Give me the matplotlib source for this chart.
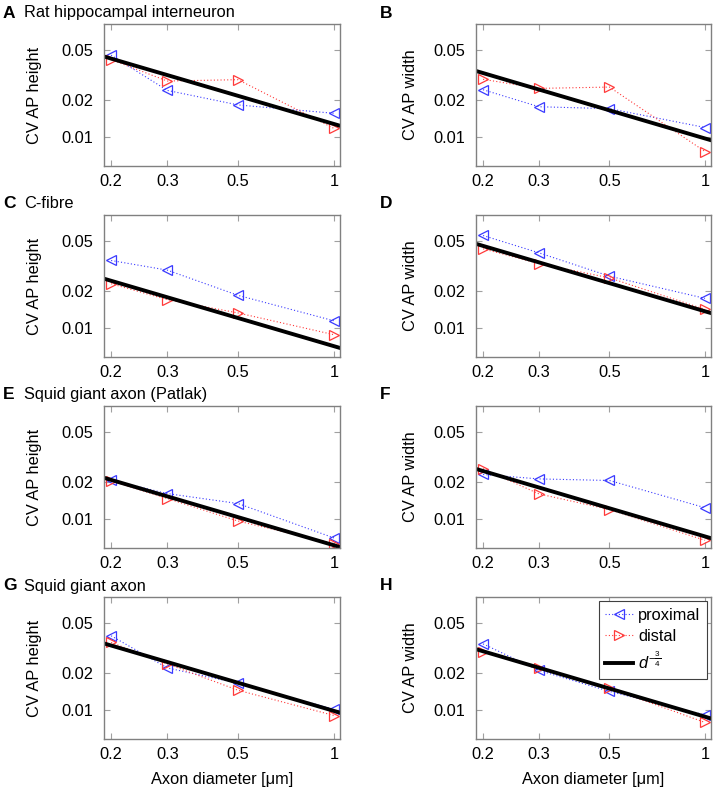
import numpy as np
import matplotlib
matplotlib.use("Agg")
import matplotlib.pyplot as plt

plt.rcParams['font.family'] = ['Liberation Sans', 'DejaVu Sans']
plt.rcParams['font.size'] = 11.8
plt.rcParams['mathtext.fontset'] = 'custom'
plt.rcParams['mathtext.it'] = 'Liberation Sans:italic'
plt.rcParams['mathtext.rm'] = 'Liberation Sans'

# axon diameters (um)
diam = [0.2, 0.3, 0.5, 1]

# CV values, proximal / distal per panel
a_prox = [0.0456, 0.0238, 0.0182, 0.0156]
a_dist = [0.0420, 0.0283, 0.0290, 0.0118]
b_prox = [0.0241, 0.0176, 0.0170, 0.0120]
b_dist = [0.0292, 0.0247, 0.0253, 0.0077]
c_prox = [0.0350, 0.0293, 0.0184, 0.0115]
c_dist = [0.0228, 0.0170, 0.0133, 0.0089]
d_prox = [0.0555, 0.0403, 0.0262, 0.0174]
d_dist = [0.0434, 0.0331, 0.0254, 0.0142]
e_prox = [0.0206, 0.0161, 0.0134, 0.0071]
e_dist = [0.0204, 0.0147, 0.0097, 0.0064]
f_prox = [0.0229, 0.0211, 0.0205, 0.0124]
f_dist = [0.0255, 0.0160, 0.0120, 0.0068]
g_prox = [0.0396, 0.0219, 0.0165, 0.0102]
g_dist = [0.0350, 0.0236, 0.0145, 0.0091]
h_prox = [0.0341, 0.0209, 0.0142, 0.0092]
h_dist = [0.0296, 0.0217, 0.0151, 0.0080]

# prefactor of the d^-3/4 line in each panel
fit_coef = [0.0128, 0.0098, 0.0072, 0.0137, 0.0062, 0.0073, 0.0099, 0.0089]

letters = ['A', 'B', 'C', 'D', 'E', 'F', 'G', 'H']
titles = ['Rat hippocampal interneuron', '', 'C-fibre', '', 'Squid giant axon (Patlak)', '',
          'Squid giant axon', '']
ylabels = ['CV AP height', 'CV AP width'] * 4
prox_all = [a_prox, b_prox, c_prox, d_prox, e_prox, f_prox, g_prox, h_prox]
dist_all = [a_dist, b_dist, c_dist, d_dist, e_dist, f_dist, g_dist, h_dist]

xticks = [0.2, 0.3, 0.5, 1]
xticklabels = ['0.2', '0.3', '0.5', '1']
yticks = [0.01, 0.02, 0.05]
yticklabels = ['0.01', '0.02', '0.05']

W, H = 716, 794
fig = plt.figure(figsize=(W / 100, H / 100), dpi=100)

col_x = [104, 476]
col_w = [236, 235]
ylab_x = [-0.263, -0.247]
row_top = [24, 215, 406, 597]
ax_h = 142
xlim = (0.19, 1.044)
ylim = (0.0059, 0.081)

for i in range(8):
    r, c = i // 2, i % 2
    ax = fig.add_axes([col_x[c] / W, 1 - (row_top[r] + ax_h) / H, col_w[c] / W, ax_h / H])
    ax.set_xscale('log')
    ax.set_yscale('log')

    ax.plot(diam, prox_all[i], color='#3a3aff', lw=0.8, ls=(0, (1, 2)), marker='<',
            ms=6.5, mfc='none', mew=0.9, label='proximal')
    ax.plot(diam, dist_all[i], color='#ff3a3a', lw=0.8, ls=(0, (1, 2)), marker='>',
            ms=6.5, mfc='none', mew=0.9, label='distal')
    d = np.array(xlim)
    ax.plot(d, fit_coef[i] * d ** -0.75, color='black', lw=2.8,
            label=r'$d^{-\frac{3}{4}}$')

    ax.set_xlim(*xlim)
    ax.set_ylim(*ylim)
    ax.minorticks_off()
    ax.set_xticks(xticks)
    ax.set_xticklabels(xticklabels)
    ax.set_yticks(yticks)
    ax.set_yticklabels(yticklabels)
    ax.tick_params(which='both', direction='in', top=True, right=True, length=4,
                   color='#a0a0a0', width=0.8, labelsize=11.8)
    ax.tick_params(axis='x', pad=6)
    ax.tick_params(axis='y', pad=8)
    for sp in ax.spines.values():
        sp.set_color('#808080')
        sp.set_linewidth(1.0)

    ax.set_ylabel(ylabels[i], fontsize=11.8)
    ax.yaxis.set_label_coords(ylab_x[c], 0.5)
    if r == 3:
        ax.set_xlabel('Axon diameter [\u03bcm]', fontsize=11.8)
        ax.xaxis.set_label_coords(0.5, -0.235)

    # panel letter and title
    ty = 1 - (row_top[r] - 11) / H
    lx = 3 if c == 0 else 380
    fig.text(lx / W, ty, letters[i], fontweight='bold', fontsize=12.5, va='center')
    if titles[i]:
        fig.text(24 / W, ty, titles[i], fontsize=11.8, va='center')

    if i == 7:
        leg = ax.legend(loc='upper right', numpoints=1, handlelength=1.7,
                        handletextpad=0.3, labelspacing=0.4, borderaxespad=0.25,
                        borderpad=0.4, fancybox=False, framealpha=1, fontsize=11.8)
        leg.get_frame().set_edgecolor('#404040')
        leg.get_frame().set_linewidth(0.8)

fig.savefig('out.png', dpi=100)
